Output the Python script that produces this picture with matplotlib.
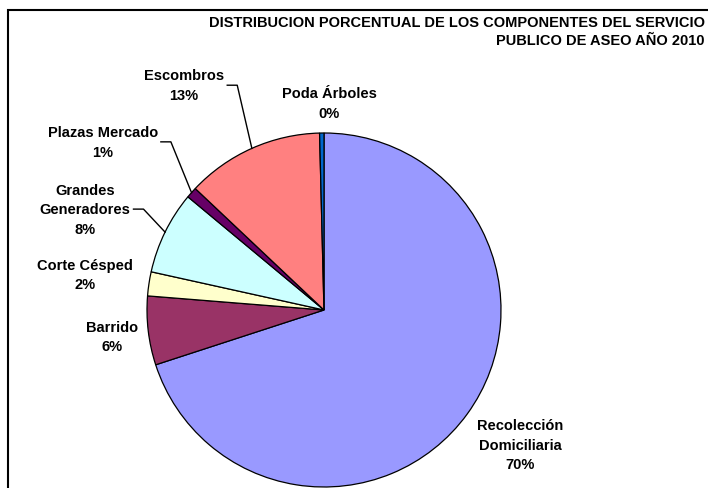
import numpy as np
import matplotlib.pyplot as plt
from matplotlib.patches import Rectangle

plt.rcParams['font.family'] = ['Liberation Sans', 'DejaVu Sans']

# data (percent)
categories = ['Recolección\nDomiciliaria', 'Barrido', 'Corte Césped', 'Grandes\nGeneradores',
              'Plazas Mercado', 'Escombros', 'Poda Árboles']
values = [70.2, 6.3, 2.2, 7.6, 1.0, 12.6, 0.4]
colors = ['#9999FF', '#993366', '#FFFFCC', '#CCFFFF', '#660066', '#FF8080', '#0066CC']
title = 'DISTRIBUCION PORCENTUAL DE LOS COMPONENTES DEL SERVICIO\nPUBLICO DE ASEO AÑO 2010'

# label placement (data coords, pie radius = 1) and which ones get a leader line
label_pos = [(1.11, -0.76), (-1.20, -0.15), (-1.35, 0.20), (-1.35, 0.57),
             (-1.25, 0.95), (-0.79, 1.27), (0.03, 1.17)]
leader = [False, False, False, True, True, True, False]

W, H = 708, 489
fig = plt.figure(figsize=(W / 100, H / 100), dpi=100)

# chart frame (runs off the right and bottom edges)
fig.add_artist(Rectangle((8 / W, -0.05), 1.0, 1 - 11 / H + 0.05, transform=fig.transFigure,
                         fill=False, edgecolor='black', linewidth=1.5))

cx, cy, r = 324, 311, 177
ax = fig.add_axes([(cx - r) / W, (H - cy - r) / H, 2 * r / W, 2 * r / H])
wedges, _ = ax.pie(values, colors=colors, startangle=90, counterclock=False, radius=1,
                   wedgeprops=dict(edgecolor='black', linewidth=0.9))
ax.set_xlim(-1, 1)
ax.set_ylim(-1, 1)
ax.set_aspect('equal')
ax.axis('off')

total = sum(values)
pct = [v / total * 100 for v in values]
texts = []
for name, p, (lx, ly) in zip(categories, pct, label_pos):
    t = ax.text(lx, ly, f'{name}\n{int(round(p))}%', ha='center', va='center',
                fontsize=10.5, fontweight='bold', linespacing=1.5, clip_on=False)
    texts.append(t)

fig.canvas.draw()
renderer = fig.canvas.get_renderer()
inv = ax.transData.inverted()
for w, t, has_line in zip(wedges, texts, leader):
    if not has_line:
        continue
    mid = np.deg2rad((w.theta1 + w.theta2) / 2)
    ex, ey = np.cos(mid), np.sin(mid)
    bb = t.get_window_extent(renderer)
    x0, y0 = inv.transform((bb.x1 + 3, (bb.y0 + bb.y1) / 2))
    x1, _ = inv.transform((bb.x1 + 13, 0))
    ax.plot([x0, x1, ex], [y0, y0, ey], color='black', linewidth=1, clip_on=False)

fig.text(705 / W, 1 - 16 / H, title, ha='right', va='top', multialignment='right',
         fontsize=10.5, fontweight='bold', linespacing=1.35)

fig.savefig('out.png', dpi=100)
